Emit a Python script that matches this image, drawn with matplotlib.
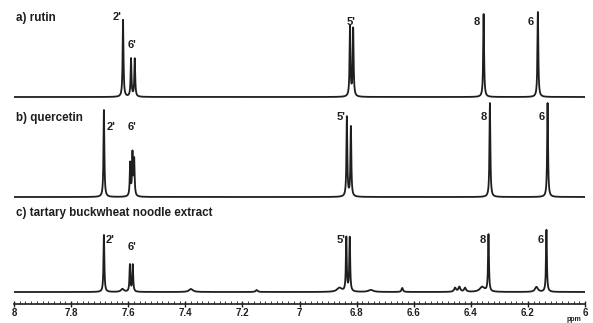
import numpy as np
import matplotlib.pyplot as plt
from matplotlib.ticker import MultipleLocator, FormatStrFormatter

# peak lists (ppm, height) for each spectrum
rutin_ppm = [7.618, 7.590, 7.577, 6.823, 6.812, 6.355, 6.165]
rutin_h = [77, 38, 38, 70, 68, 83, 85]

querc_ppm = [7.685, 7.593, 7.585, 7.579, 6.834, 6.820, 6.333, 6.131]
querc_h = [87, 33, 42, 36, 80, 70, 94, 94]

extract_ppm = [7.685, 7.594, 7.584, 6.836, 6.824, 6.338, 6.135,
               7.62, 7.38, 7.15, 6.86, 6.75, 6.64, 6.455, 6.44, 6.42, 6.36, 6.17]
extract_h = [57, 27, 27, 54, 54, 57, 62,
             3, 3, 2, 4, 2, 4, 4, 5, 4, 5, 5]
extract_w = [0.0018] * 7 + [0.006, 0.008, 0.004, 0.01, 0.01, 0.003, 0.004, 0.004, 0.004, 0.01, 0.006]

titles = ["a) rutin", "b) quercetin", "c) tartary buckwheat noodle extract"]

# peak labels: (text, ppm, height above baseline)
rutin_lab = [("2'", 7.640, 80), ("6'", 7.585, 52), ("5'", 6.820, 75), ("8", 6.378, 75), ("6", 6.190, 75)]
querc_lab = [("2'", 7.660, 70), ("6'", 7.585, 70), ("5'", 6.855, 80), ("8", 6.355, 80), ("6", 6.152, 80)]
extract_lab = [("2'", 7.665, 52), ("6'", 7.585, 45), ("5'", 6.853, 52), ("8", 6.358, 52), ("6", 6.155, 52)]

x = np.linspace(6.0, 8.0, 8000)


def spectrum(ppm, h, w):
    y = np.zeros_like(x)
    for p, a, g in zip(ppm, h, w):
        y += a * g**2 / ((x - p)**2 + g**2)
    return y


fig = plt.figure(figsize=(5.93, 3.23), dpi=100)
ax = fig.add_axes([14/593, 19/323, 571/593, 304/323])

col = '#1e1e1e'
specs = [
    (rutin_ppm, rutin_h, [0.0018]*len(rutin_ppm), rutin_lab, 207),
    (querc_ppm, querc_h, [0.0018]*len(querc_ppm), querc_lab, 107),
    (extract_ppm, extract_h, extract_w, extract_lab, 12),
]
for (ppm, h, w, labs, off), title in zip(specs, titles):
    ax.plot(x, spectrum(ppm, h, w) + off, color=col, lw=1.3)
    ax.text(7.993, off + 79, title, fontsize=8.4, fontweight='bold', color=col,
            ha='left', va='center', family='Liberation Sans')
    for t, p, yy in labs:
        ax.text(p, off + yy, t, fontsize=8, fontweight='bold', color=col,
                ha='center', va='center', family='Liberation Sans')

ax.set_xlim(8, 6)
ax.set_ylim(0, 304)
ax.xaxis.set_major_locator(MultipleLocator(0.2))
ax.xaxis.set_minor_locator(MultipleLocator(0.02))
ax.xaxis.set_major_formatter(FormatStrFormatter('%g'))
ax.tick_params(axis='x', which='major', direction='inout', length=5, width=1, labelsize=7, pad=0.5, colors=col)
ax.tick_params(axis='x', which='minor', direction='in', length=2, width=0.6, colors=col)
for lab in ax.get_xticklabels():
    lab.set_fontweight('bold')
    lab.set_family('Liberation Sans')
ax.set_yticks([])
for s in ['top', 'left', 'right']:
    ax.spines[s].set_visible(False)
ax.spines['bottom'].set_color(col)
ax.spines['bottom'].set_linewidth(1.2)
ax.patch.set_alpha(0)
fig.text(574/593, 0, 'ppm', fontsize=5, fontweight='bold', color=col, ha='center', va='bottom',
         family='Liberation Sans')

fig.savefig('out.png', dpi=100)
